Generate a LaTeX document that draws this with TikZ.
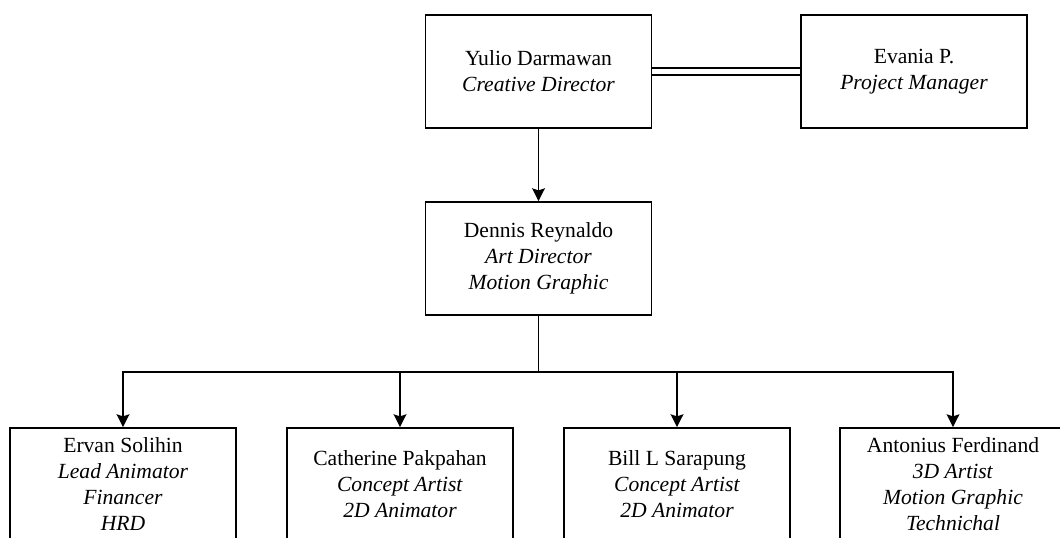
\documentclass[tikz,border=0pt]{standalone}
\usepackage{fontspec}
\setmainfont{Liberation Serif}
\usetikzlibrary{arrows.meta}

\tikzset{
  kotak/.style={draw,line width=1.4pt,minimum width=169.5pt,minimum height=84.75pt,
    inner sep=0pt,align=center,font=\fontsize{16.2}{19.5}\selectfont},
  garis/.style={line width=1.4pt},
  panah/.style={garis,-{Stealth[length=9.5pt,width=9.5pt,inset=1.5pt]}}
}

\begin{document}
\begin{tikzpicture}[x=0.75pt,y=-0.75pt]
  \clip (0,0) rectangle (1060,537);

  % atas
  \node[kotak] (yulio) at (538.5,71.5) {Yulio Darmawan\\\textit{Creative Director}};
  \node[kotak] (evania) at (914,71.5) {Evania P.\\\textit{Project Manager}};
  \node[kotak] (dennis) at (538.5,258.5) {Dennis Reynaldo\\\textit{Art Director}\\\textit{Motion Graphic}};

  % bawah
  \node[kotak] (ervan) at (123,484.5) {Ervan Solihin\\\textit{Lead Animator}\\\textit{Financer}\\\textit{HRD}};
  \node[kotak] (catherine) at (400,484.5) {Catherine Pakpahan\\\textit{Concept Artist}\\\textit{2D Animator}};
  \node[kotak] (bill) at (677,484.5) {Bill L Sarapung\\\textit{Concept Artist}\\\textit{2D Animator}};
  \node[kotak] (antonius) at (953,484.5) {Antonius Ferdinand\\\textit{3D Artist}\\\textit{Motion Graphic}\\\textit{Technichal}};

  \draw[garis,double,double distance=4.4pt] (yulio) -- (evania);
  \draw[panah] (yulio) -- (dennis);

  \coordinate (bus) at (538.5,371.7);
  \draw[garis] (dennis.south) -- (bus);
  \foreach \n in {ervan,catherine,bill,antonius} {
    \draw[panah] (bus) -| (\n.north);
  }
\end{tikzpicture}
\end{document}
